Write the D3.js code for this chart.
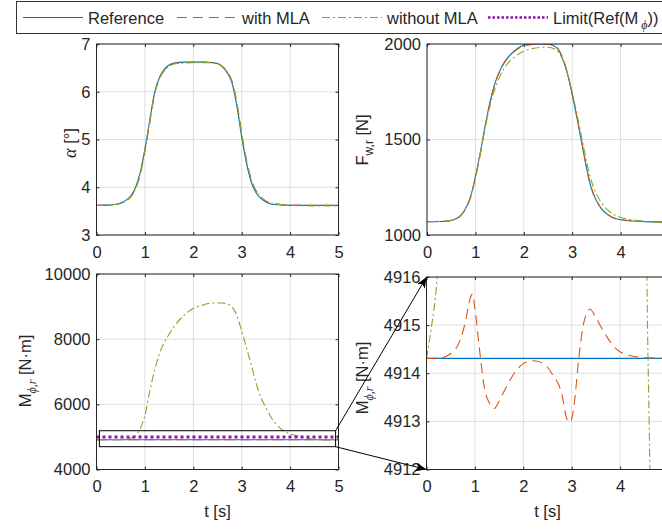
<!DOCTYPE html>
<html>
<head>
<meta charset="utf-8">
<script src="https://cdn.jsdelivr.net/npm/d3@7"></script>
<style>
  body { margin: 0; background: #fff; }
  svg { display: block; font-family: "Liberation Sans", Arial, sans-serif; }
</style>
</head>
<body>
<svg id="chart" width="662" height="531"></svg>
<script>
// time grid shared by the alpha and force series [s]
const tGrid = [0, 0.3, 0.5, 0.6, 0.7, 0.8, 0.9, 1.0, 1.1, 1.2, 1.3, 1.4, 1.5, 1.6, 1.8, 2.0, 2.2, 2.4, 2.5,
  2.6, 2.7, 2.8, 2.9, 3.0, 3.1, 3.2, 3.3, 3.4, 3.5, 3.6, 3.8, 4.0, 4.5, 5.0];

// alpha [deg]
const alphaRef = [3.62, 3.63, 3.67, 3.72, 3.81, 3.98, 4.30, 4.80, 5.40, 5.98, 6.30, 6.47, 6.56, 6.60, 6.62, 6.62, 6.62, 6.61, 6.59,
  6.52, 6.40, 6.18, 5.70, 5.05, 4.50, 4.10, 3.88, 3.76, 3.69, 3.65, 3.63, 3.62, 3.62, 3.62];
const alphaMLA = [3.62, 3.63, 3.66, 3.71, 3.79, 3.95, 4.25, 4.74, 5.35, 5.94, 6.27, 6.45, 6.54, 6.59, 6.61, 6.62, 6.62, 6.61, 6.59,
  6.53, 6.42, 6.22, 5.78, 5.13, 4.57, 4.16, 3.92, 3.79, 3.71, 3.67, 3.64, 3.63, 3.62, 3.62];
const alphaNoMLA = [3.62, 3.63, 3.66, 3.71, 3.80, 3.96, 4.27, 4.77, 5.38, 5.95, 6.27, 6.44, 6.53, 6.58, 6.60, 6.61, 6.61, 6.61, 6.59,
  6.53, 6.42, 6.21, 5.76, 5.11, 4.56, 4.15, 3.91, 3.79, 3.71, 3.67, 3.64, 3.62, 3.61, 3.61];

// F_w,r [N]
const forceRef = [1070, 1071, 1076, 1085, 1103, 1140, 1200, 1305, 1430, 1570, 1695, 1790, 1858, 1905, 1962, 1993, 2000, 2000, 1999,
  1993, 1975, 1925, 1845, 1735, 1610, 1480, 1345, 1240, 1180, 1138, 1095, 1080, 1070, 1068];
const forceMLA = [1070, 1071, 1076, 1084, 1101, 1137, 1196, 1298, 1422, 1562, 1690, 1787, 1856, 1903, 1960, 1990, 1998, 2000, 2000,
  1995, 1978, 1930, 1850, 1740, 1615, 1485, 1350, 1245, 1183, 1140, 1097, 1081, 1071, 1068];
const forceNoMLA = [1070, 1071, 1077, 1086, 1104, 1142, 1203, 1306, 1428, 1560, 1675, 1762, 1828, 1875, 1930, 1962, 1977, 1983, 1983,
  1978, 1963, 1920, 1848, 1748, 1630, 1505, 1380, 1280, 1215, 1170, 1118, 1092, 1072, 1062];

// M_phi,r [N.m]
const tMomentRef = [0, 5];
const momentRef = [4914.31, 4914.31];
const tMomentMLA = [0, 0.3, 0.5, 0.6, 0.7, 0.8, 0.9, 0.95, 1.0, 1.1, 1.2, 1.3, 1.4, 1.5, 1.6, 1.8, 2.0, 2.2, 2.4, 2.6,
  2.8, 2.9, 2.97, 3.05, 3.15, 3.25, 3.38, 3.5, 3.7, 3.9, 4.2, 4.6, 5.0];
const momentMLA = [4914.31, 4914.32, 4914.41, 4914.5, 4914.7, 4915.05, 4915.55, 4915.65, 4915.35, 4914.45, 4913.68, 4913.38,
  4913.27, 4913.42, 4913.62, 4913.98, 4914.2, 4914.26, 4914.21, 4913.98, 4913.55, 4913.05, 4912.98, 4913.35, 4914.34,
  4915.05, 4915.33, 4915.15, 4914.8, 4914.52, 4914.37, 4914.32, 4914.31];
const tMomentNoMLA = [0, 0.1, 0.2, 0.3, 0.5, 0.7, 0.8, 0.9, 1.0, 1.1, 1.2, 1.3, 1.4, 1.5, 1.6, 1.8, 2.0, 2.2, 2.4, 2.6, 2.7,
  2.8, 2.9, 3.0, 3.1, 3.2, 3.3, 3.4, 3.5, 3.6, 3.8, 4.0, 4.2, 4.4, 4.5, 4.55, 4.6, 4.65, 4.8, 5.0];
const momentNoMLA = [4914.31, 4914.95, 4915.75, 4917.2, 4925, 4960, 5040, 5250, 5650, 6400, 7050, 7550, 7900, 8150, 8380,
  8720, 8940, 9050, 9110, 9110, 9080, 8990, 8720, 8250, 7730, 7200, 6640, 6200, 5900, 5620, 5260, 5090, 5010, 4950,
  4925, 4916.5, 4913, 4910, 4905, 4902];
const tLimit = [0, 5];
const momentLimit = [5000, 5000];

// ticks
const timeTicks = [0, 1, 2, 3, 4, 5];
const alphaTicks = [3, 4, 5, 6, 7];
const forceTicks = [1000, 1500, 2000];
const momentTicks = [4000, 6000, 8000, 10000];
const insetTicks = [4912, 4913, 4914, 4915, 4916];

// zoom window drawn on the moment plot
const zoomT = [0.06, 4.94];
const zoomM = [4700, 5190];

const legendNames = ['Reference', 'with MLA', 'without MLA', 'Limit'];

const styles = {
  ref: { color: '#0072BD', dash: null, width: 1.1 },
  mla: { color: '#D95319', dash: '10,6', width: 1.1 },
  nomla: { color: '#77AC30', dash: '8,3,2,3', width: 1.1 },
  limit: { color: '#9010B0', dash: '3,3', width: 3 }
};

const axisColor = '#262626';
const gridColor = '#dfdfdf';
const fontSize = 16.5;
const pageWidth = 662;
const svg = d3.select('#chart');
const defs = svg.append('defs');

let clipCount = 0;

// one axes box with grid, ticks and labels; returns its scales
function makePanel(box, yDomain, yTicks, xLabel) {
  const x = d3.scaleLinear().domain([0, 5]).range([box.x0, box.x1]);
  const y = d3.scaleLinear().domain(yDomain).range([box.y1, box.y0]);
  const g = svg.append('g');

  const clipId = 'clip' + (clipCount++);
  defs.append('clipPath').attr('id', clipId)
    .append('rect')
    .attr('x', box.x0).attr('y', box.y0)
    .attr('width', box.x1 - box.x0).attr('height', box.y1 - box.y0);

  g.selectAll('.gx').data(timeTicks).enter().append('line')
    .attr('x1', d => x(d)).attr('x2', d => x(d))
    .attr('y1', box.y0).attr('y2', box.y1)
    .attr('stroke', gridColor).attr('stroke-width', 1);
  g.selectAll('.gy').data(yTicks).enter().append('line')
    .attr('x1', box.x0).attr('x2', box.x1)
    .attr('y1', d => y(d)).attr('y2', d => y(d))
    .attr('stroke', gridColor).attr('stroke-width', 1);

  const plot = g.append('g').attr('clip-path', `url(#${clipId})`);

  // labels that would fall past the page edge are left blank (the figure is cut there)
  g.append('g').attr('transform', `translate(0,${box.y1})`)
    .call(d3.axisBottom(x).tickValues(timeTicks).tickSize(-3).tickPadding(11)
      .tickFormat(d => (x(d) + 5 > pageWidth ? '' : d3.format('d')(d))));
  g.append('g').attr('transform', `translate(${box.x0},0)`)
    .call(d3.axisLeft(y).tickValues(yTicks).tickSize(-3).tickPadding(6).tickFormat(d3.format('d')));
  g.append('g').attr('transform', `translate(0,${box.y0})`)
    .call(d3.axisTop(x).tickValues(timeTicks).tickSize(-3).tickFormat(''));
  g.append('g').attr('transform', `translate(${box.x1},0)`)
    .call(d3.axisRight(y).tickValues(yTicks).tickSize(-3).tickFormat(''));

  g.selectAll('.domain').remove();
  g.selectAll('.tick line').attr('stroke', axisColor);
  g.selectAll('.tick text').attr('fill', axisColor).style('font-size', fontSize + 'px')
    .style('font-family', '"Liberation Sans", Arial, sans-serif');

  g.append('rect')
    .attr('x', box.x0).attr('y', box.y0)
    .attr('width', box.x1 - box.x0).attr('height', box.y1 - box.y0)
    .attr('fill', 'none').attr('stroke', axisColor).attr('stroke-width', 1);

  if (xLabel) {
    g.append('text').attr('x', (box.x0 + box.x1) / 2).attr('y', box.y1 + 47)
      .attr('text-anchor', 'middle').attr('fill', axisColor)
      .style('font-size', fontSize + 'px').text('t [s]');
  }
  return { x, y, plot };
}

function drawLine(p, ts, vals, st) {
  const line = d3.line().x(d => p.x(d[0])).y(d => p.y(d[1])).curve(d3.curveMonotoneX);
  p.plot.append('path')
    .datum(ts.map((t, i) => [t, vals[i]]))
    .attr('d', line)
    .attr('fill', 'none')
    .attr('stroke', st.color)
    .attr('stroke-width', st.width)
    .attr('stroke-dasharray', st.dash);
}

// rotated y label built from parts: [text, kind] with kind 'sub', 'subit', 'it' or plain
function yLabel(cx, cy, parts) {
  const t = svg.append('text')
    .attr('transform', `translate(${cx},${cy}) rotate(-90)`)
    .attr('text-anchor', 'middle').attr('fill', axisColor)
    .style('font-size', fontSize + 'px');
  addParts(t, parts);
}

function addParts(t, parts) {
  let shift = 0;
  parts.forEach(([s, kind]) => {
    const span = t.append('tspan').text(s);
    if (kind === 'sub' || kind === 'subit') {
      span.attr('dy', 5 - shift).style('font-size', '12px');
      shift = 5;
      if (kind === 'subit') span.style('font-family', '"Liberation Serif", serif').style('font-style', 'italic');
    } else {
      if (shift) span.attr('dy', -shift);
      shift = 0;
      if (kind === 'it') span.style('font-family', '"Liberation Serif", serif').style('font-style', 'italic').style('font-size', '18px');
    }
  });
}

const boxTL = { x0: 96.5, x1: 338.5, y0: 44, y1: 235 };
const boxTR = { x0: 427, x1: 669, y0: 44, y1: 235 };
const boxBL = { x0: 96.5, x1: 338.5, y0: 274, y1: 469.5 };
const boxBR = { x0: 426.5, x1: 668.5, y0: 277, y1: 469.5 };

const pTL = makePanel(boxTL, [3, 7], alphaTicks, false);
drawLine(pTL, tGrid, alphaRef, styles.ref);
drawLine(pTL, tGrid, alphaMLA, styles.mla);
drawLine(pTL, tGrid, alphaNoMLA, styles.nomla);

const pTR = makePanel(boxTR, [1000, 2000], forceTicks, false);
drawLine(pTR, tGrid, forceRef, styles.ref);
drawLine(pTR, tGrid, forceMLA, styles.mla);
drawLine(pTR, tGrid, forceNoMLA, styles.nomla);

const pBL = makePanel(boxBL, [4000, 10000], momentTicks, true);
drawLine(pBL, tMomentRef, momentRef, styles.ref);
drawLine(pBL, tMomentMLA, momentMLA, styles.mla);
drawLine(pBL, tMomentNoMLA, momentNoMLA, styles.nomla);
drawLine(pBL, tLimit, momentLimit, styles.limit);

const pBR = makePanel(boxBR, [4912, 4916], insetTicks, true);
drawLine(pBR, tMomentRef, momentRef, styles.ref);
drawLine(pBR, tMomentMLA, momentMLA, styles.mla);
drawLine(pBR, tMomentNoMLA, momentNoMLA, styles.nomla);
drawLine(pBR, tLimit, momentLimit, styles.limit);

// axis labels
yLabel(76, 143, [['α', 'it'], [' [°]']]);
yLabel(368, 140, [['F'], ['w,r', 'sub'], [' [N]']]);
yLabel(31, 371, [['M'], ['ϕ,r', 'subit'], [' [N·m]']]);
yLabel(368, 378, [['M'], ['ϕ,r', 'subit'], [' [N·m]']]);

// zoom window and arrows
svg.append('rect')
  .attr('x', pBL.x(zoomT[0])).attr('y', pBL.y(zoomM[1]))
  .attr('width', pBL.x(zoomT[1]) - pBL.x(zoomT[0]))
  .attr('height', pBL.y(zoomM[0]) - pBL.y(zoomM[1]))
  .attr('fill', 'none').attr('stroke', '#000').attr('stroke-width', 1);

defs.append('marker').attr('id', 'head')
  .attr('markerUnits', 'userSpaceOnUse')
  .attr('markerWidth', 12).attr('markerHeight', 10)
  .attr('refX', 11).attr('refY', 4.5).attr('orient', 'auto')
  .append('path').attr('d', 'M0,0 L11,4.5 L0,9 L3,4.5 Z').attr('fill', '#000');

const arrows = [
  [[zoomT[1], zoomM[1]], [0, 4916]],
  [[zoomT[1], zoomM[0]], [0, 4912]]
];
svg.selectAll('.arrow').data(arrows).enter().append('line')
  .attr('x1', d => pBL.x(d[0][0])).attr('y1', d => pBL.y(d[0][1]))
  .attr('x2', d => pBR.x(d[1][0])).attr('y2', d => pBR.y(d[1][1]))
  .attr('stroke', '#000').attr('stroke-width', 1)
  .attr('marker-end', 'url(#head)');

// legend
const legend = svg.append('g');
legend.append('rect').attr('x', 16.5).attr('y', 1.5).attr('width', 700).attr('height', 32)
  .attr('fill', '#fff').attr('stroke', '#333').attr('stroke-width', 1);
const legendItems = [
  { x: 23, name: legendNames[0], st: styles.ref },
  { x: 177, name: legendNames[1], st: styles.mla },
  { x: 322, name: legendNames[2], st: styles.nomla },
  { x: 488, name: legendNames[3], st: styles.limit }
];
legendItems.forEach(it => {
  legend.append('line').attr('x1', it.x).attr('x2', it.x + 60).attr('y1', 17.5).attr('y2', 17.5)
    .attr('stroke', it.st.color).attr('stroke-width', it.st === styles.limit ? 2.5 : it.st.width)
    .attr('stroke-dasharray', it.st === styles.limit ? '2.5,2' : it.st.dash);
  const t = legend.append('text').attr('x', it.x + 65).attr('y', 24)
    .attr('fill', axisColor).style('font-size', fontSize + 'px');
  if (it.st === styles.limit) {
    addParts(t, [['Limit(Ref(M'], [' ϕ', 'subit'], ['))']]);
  } else {
    t.text(it.name);
  }
});
</script>
</body>
</html>
